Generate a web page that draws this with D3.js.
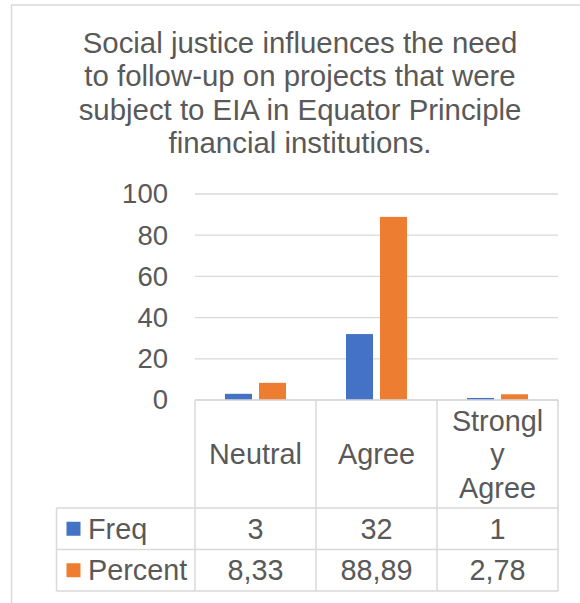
<!DOCTYPE html>
<html>
<head>
<meta charset="utf-8">
<script src="https://cdn.jsdelivr.net/npm/d3@7"></script>
<style>
  body { margin: 0; background: #fff; }
  text { font-family: "Liberation Sans", Arial, sans-serif; fill: #595959; }
</style>
</head>
<body>
<svg id="chart" width="580" height="603"></svg>
<script>
// Chart content
const titleLines = [
  "Social justice influences the need",
  "to follow-up on projects that were",
  "subject to EIA in Equator Principle",
  "financial institutions."
];
const categories = ["Neutral", "Agree", "Strongly Agree"];
const categoryLabelLines = [["Neutral"], ["Agree"], ["Strongl", "y", "Agree"]];
const seriesNames = ["Freq", "Percent"];
const freqValues = [3, 32, 1];
const percentValues = [8.33, 88.89, 2.78];
const yTicks = [0, 20, 40, 60, 80, 100];
const seriesColors = ["#4472C4", "#ED7D31"];

const seriesValues = [freqValues, percentValues];
const rows = categories.map((c, i) => ({
  category: c,
  values: seriesNames.map((s, j) => ({ series: s, value: seriesValues[j][i] }))
}));

const svg = d3.select("#chart");
const gridColor = "#d9d9d9";
const fontSize = 28.8;

// Outer chart frame (runs past the page edge on the right and bottom)
svg.append("rect")
  .attr("x", 11.5).attr("y", 5)
  .attr("width", 640).attr("height", 640)
  .attr("fill", "none").attr("stroke", gridColor).attr("stroke-width", 1.5);

// Title
svg.append("g").selectAll("text").data(titleLines).join("text")
  .attr("x", 300)
  .attr("y", (d, i) => 53 + i * 33.4)
  .attr("text-anchor", "middle")
  .style("font-size", "29.4px")
  .text(d => d);

// Scales
const plotLeft = 195, plotRight = 558, plotTop = 194, plotBottom = 400;
const x = d3.scaleBand().domain(categories).range([plotLeft, plotRight]).padding(0);
const xInner = d3.scaleBand().domain(seriesNames).range([0, x.bandwidth()])
  .paddingInner(0.206).paddingOuter(0.882);
const y = d3.scaleLinear().domain([0, 100]).range([plotBottom, plotTop]);
const color = d3.scaleOrdinal().domain(seriesNames).range(seriesColors);

// Gridlines
svg.append("g").selectAll("line").data(yTicks).join("line")
  .attr("x1", plotLeft).attr("x2", plotRight)
  .attr("y1", d => y(d)).attr("y2", d => y(d))
  .attr("stroke", gridColor).attr("stroke-width", 1.3);

// Y axis labels
const yAxis = d3.axisLeft(y).tickValues(yTicks).tickSize(0).tickPadding(0);
const yAxisG = svg.append("g").attr("transform", "translate(168,0)").call(yAxis);
yAxisG.select(".domain").remove();
yAxisG.selectAll("text")
  .attr("fill", null)
  .style("font-size", "27.5px")
  .attr("font-family", null);

// Bars
svg.append("g").selectAll("g").data(rows).join("g")
  .attr("transform", d => `translate(${x(d.category)},0)`)
  .selectAll("rect").data(d => d.values).join("rect")
  .attr("x", d => xInner(d.series))
  .attr("width", xInner.bandwidth())
  .attr("y", d => y(d.value))
  .attr("height", d => y(0) - y(d.value))
  .attr("fill", d => color(d.series));

// Data table
const tableLeft = 56.5, headerBottom = 508, tableBottom = 591;
const rowY = d3.scaleBand().domain(seriesNames).range([headerBottom, tableBottom]);
const fmt = d3.formatLocale({ decimal: ",", thousands: ".", grouping: [3], currency: ["", ""] });
const fmtVal = v => Number.isInteger(v) ? String(v) : fmt.format(".2f")(v);

const table = svg.append("g");
const borderLines = [
  // horizontal
  [plotLeft, plotBottom, plotRight, plotBottom],
  [tableLeft, headerBottom, plotRight, headerBottom],
  ...seriesNames.map(s => [tableLeft, rowY(s) + rowY.bandwidth(), plotRight, rowY(s) + rowY.bandwidth()]),
  // vertical
  [tableLeft, headerBottom, tableLeft, tableBottom],
  ...categories.map(c => [x(c), plotBottom, x(c), tableBottom]),
  [plotRight, plotBottom, plotRight, tableBottom]
];
table.selectAll("line").data(borderLines).join("line")
  .attr("x1", d => d[0]).attr("y1", d => d[1])
  .attr("x2", d => d[2]).attr("y2", d => d[3])
  .attr("stroke", gridColor).attr("stroke-width", 1.5);

// Category header labels
const lineGap = 33.5;
const headerMid = (plotBottom + headerBottom) / 2;
categories.forEach((c, i) => {
  const lines = categoryLabelLines[i];
  table.append("text")
    .attr("text-anchor", "middle")
    .style("font-size", fontSize + "px")
    .selectAll("tspan").data(lines).join("tspan")
    .attr("x", x(c) + x.bandwidth() / 2)
    .attr("y", (d, k) => headerMid + (k - (lines.length - 1) / 2) * lineGap)
    .attr("dy", "0.35em")
    .text(d => d);
});

// Legend keys and series names
seriesNames.forEach(s => {
  const mid = rowY(s) + rowY.bandwidth() / 2;
  table.append("rect")
    .attr("x", 66.5).attr("y", mid - 7)
    .attr("width", 14).attr("height", 14)
    .attr("fill", color(s));
  table.append("text")
    .attr("x", 88).attr("y", mid).attr("dy", "0.35em")
    .style("font-size", fontSize + "px")
    .text(s);
});

// Values
rows.forEach(r => {
  r.values.forEach(v => {
    table.append("text")
      .attr("x", x(r.category) + x.bandwidth() / 2)
      .attr("y", rowY(v.series) + rowY.bandwidth() / 2)
      .attr("dy", "0.35em")
      .attr("text-anchor", "middle")
      .style("font-size", fontSize + "px")
      .text(fmtVal(v.value));
  });
});
</script>
</body>
</html>
